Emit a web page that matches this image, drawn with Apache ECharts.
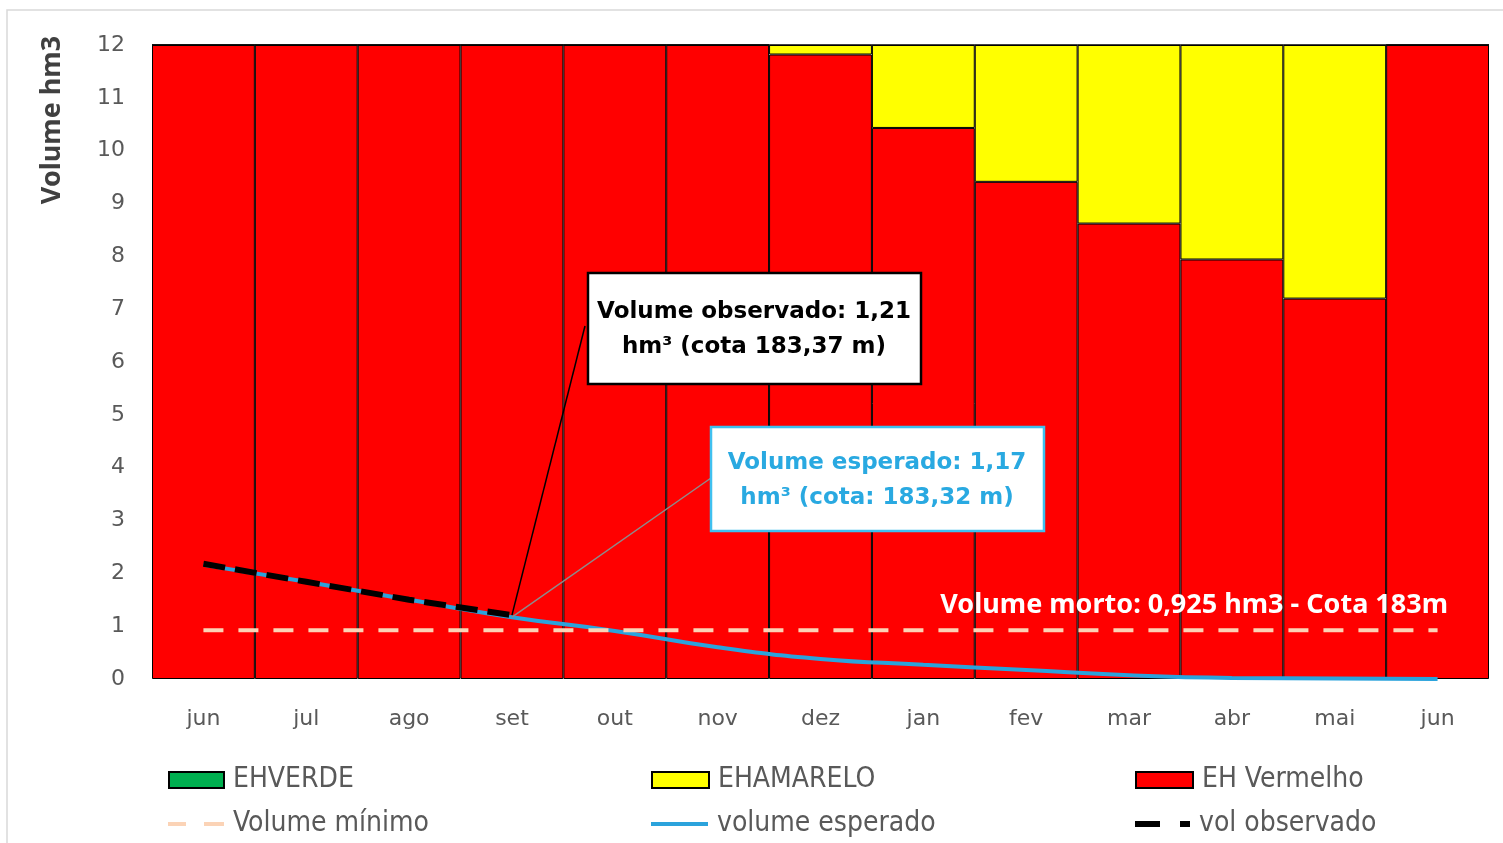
<!DOCTYPE html>
<html>
<head>
<meta charset="utf-8">
<script src="https://cdn.jsdelivr.net/npm/echarts@6/dist/echarts.min.js"></script>
<style>
  html, body { margin: 0; padding: 0; background: #fff; }
  #main { width: 1503px; height: 843px; }
</style>
</head>
<body>
<div id="main"></div>
<script>
// meses do ano hidrológico
const meses = ['jun', 'jul', 'ago', 'set', 'out', 'nov', 'dez', 'jan', 'fev', 'mar', 'abr', 'mai', 'jun'];
const ehVermelho = [12, 12, 12, 12, 12, 12, 11.82, 10.43, 9.41, 8.62, 7.94, 7.2, 12];
const ehAmarelo = [0, 0, 0, 0, 0, 0, 0.18, 1.57, 2.59, 3.38, 4.06, 4.8, 0];
const ehVerde = [0, 0, 0, 0, 0, 0, 0, 0, 0, 0, 0, 0, 0];
const volumeEsperado = [2.16, 1.84, 1.5, 1.17, 0.91, 0.6, 0.38, 0.27, 0.17, 0.07, 0.02, 0.01, 0];
const volObservado = [2.18, 1.84, 1.5, 1.21, null, null, null, null, null, null, null, null, null];
const volumeMinimo = [0.925, 0.925, 0.925, 0.925, 0.925, 0.925, 0.925, 0.925, 0.925, 0.925, 0.925, 0.925, 0.925];
const yTicks = { min: 0, max: 12, interval: 1 };

const chart = echarts.init(document.getElementById('main'), null, { renderer: 'canvas' });

const legendFont = {
  color: '#595959',
  fontSize: 28,
  fontFamily: '"DejaVu Sans Condensed", "Noto Sans", sans-serif',
  lineHeight: 30,
  padding: [0, 0, 0, 4],
};

// uma legenda por item, em 3 colunas x 2 linhas
function legendItem(name, left, top, icon, w, h) {
  return {
    data: [name],
    left: left,
    top: top,
    padding: 0,
    icon: icon,
    itemWidth: w,
    itemHeight: h,
    textStyle: legendFont,
  };
}

let option = {
  animation: false,
  grid: { left: 152, right: 14, top: 45, bottom: 164 },
  legend: [
    legendItem('EHVERDE', 168, 765, 'rect', 55, 16),
    legendItem('EHAMARELO', 651, 765, 'rect', 57, 16),
    legendItem('EH Vermelho', 1135, 765, 'rect', 57, 16),
    legendItem('Volume mínimo', 168, 809, 'path://M0,0h18v4h-18zM36,0h20v4h-20z', 56, 4),
    legendItem('volume esperado', 651, 809, 'rect', 57, 4),
    legendItem('vol observado', 1135, 809, 'path://M0,0h25v6h-25zM45,0h10v6h-10z', 55, 6),
  ],
  xAxis: {
    type: 'category',
    data: meses,
    axisLine: { show: false },
    axisTick: { show: false },
    axisLabel: {
      color: '#595959',
      fontSize: 22,
      fontFamily: 'DejaVu Sans',
      margin: 29,
    },
  },
  yAxis: {
    type: 'value',
    min: yTicks.min,
    max: yTicks.max,
    interval: yTicks.interval,
    splitLine: { show: false },
    axisLine: { show: false },
    axisLabel: {
      color: '#595959',
      fontSize: 22,
      fontFamily: 'DejaVu Sans',
      margin: 27,
    },
  },
  series: [
    {
      name: 'EH Vermelho',
      type: 'bar',
      stack: 'eh',
      data: ehVermelho,
      barWidth: '100%',
      barCategoryGap: '0%',
      itemStyle: { color: '#ff0000', borderColor: '#000', borderWidth: 1 },
    },
    {
      name: 'EHAMARELO',
      type: 'bar',
      stack: 'eh',
      data: ehAmarelo,
      itemStyle: { color: '#ffff00', borderColor: '#000', borderWidth: 1 },
    },
    {
      name: 'EHVERDE',
      type: 'bar',
      stack: 'eh',
      data: ehVerde,
      itemStyle: { color: '#00b050', borderColor: '#000', borderWidth: 1 },
    },
    {
      name: 'volume esperado',
      type: 'line',
      data: volumeEsperado,
      smooth: true,
      symbol: 'none',
      lineStyle: { color: '#2ba3dc', width: 4 },
      itemStyle: { color: '#2ba3dc' },
    },
    {
      name: 'Volume mínimo',
      type: 'line',
      data: volumeMinimo,
      symbol: 'none',
      lineStyle: { color: '#fbd3b6', width: 4, type: [20, 15] },
      itemStyle: { color: '#fbd3b6' },
    },
    {
      name: 'vol observado',
      type: 'line',
      data: volObservado,
      symbol: 'none',
      lineStyle: { color: '#000', width: 6, type: [22, 10] },
      itemStyle: { color: '#000' },
    },
  ],
};
chart.setOption(option);

// anotações: caixas de texto e linhas de chamada até o ponto observado/esperado
const ptObs = chart.convertToPixel({ gridIndex: 0 }, [3, volObservado[3]]);
const ptEsp = chart.convertToPixel({ gridIndex: 0 }, [3, volumeEsperado[3]]);

chart.setOption({
  graphic: [
    {
      type: 'rect',
      shape: { x: 7, y: 10, width: 1600, height: 900 },
      style: { fill: 'none', stroke: '#d9d9d9', lineWidth: 1.5 },
      z: 0,
    },
    {
      type: 'text',
      x: 52,
      y: 120,
      rotation: Math.PI / 2,
      style: {
        text: 'Volume hm3',
        align: 'center',
        verticalAlign: 'middle',
        fill: '#404040',
        fontSize: 27,
        fontWeight: 'bold',
        fontFamily: 'Noto Sans',
      },
    },
    {
      type: 'line',
      shape: { x1: 585, y1: 326, x2: ptObs[0], y2: ptObs[1] },
      style: { stroke: '#000', lineWidth: 1.5 },
      z: 100,
    },
    {
      type: 'line',
      shape: { x1: 711, y1: 478, x2: ptEsp[0], y2: ptEsp[1] },
      style: { stroke: '#8c8c8c', lineWidth: 1.5 },
      z: 100,
    },
    {
      type: 'rect',
      shape: { x: 588, y: 273, width: 333, height: 111 },
      style: { fill: '#fff', stroke: '#000', lineWidth: 2.5 },
      z: 101,
    },
    {
      type: 'text',
      x: 754,
      y: 330,
      style: {
        text: 'Volume observado: 1,21\nhm³ (cota 183,37 m)',
        align: 'center',
        verticalAlign: 'middle',
        lineHeight: 35,
        fill: '#000',
        fontSize: 23,
        fontWeight: 'bold',
        fontFamily: 'DejaVu Sans',
      },
      z: 102,
    },
    {
      type: 'rect',
      shape: { x: 711, y: 427, width: 333, height: 104 },
      style: { fill: '#fff', stroke: '#3fc0ef', lineWidth: 2.5 },
      z: 101,
    },
    {
      type: 'text',
      x: 877,
      y: 481,
      style: {
        text: 'Volume esperado: 1,17\nhm³ (cota: 183,32 m)',
        align: 'center',
        verticalAlign: 'middle',
        lineHeight: 35,
        fill: '#29a9e1',
        fontSize: 23,
        fontWeight: 'bold',
        fontFamily: 'DejaVu Sans',
      },
      z: 102,
    },
    {
      type: 'text',
      x: 1448,
      y: 605,
      style: {
        text: 'Volume morto: 0,925 hm3 - Cota 183m',
        align: 'right',
        verticalAlign: 'middle',
        fill: '#fff',
        fontSize: 27,
        fontWeight: 'bold',
        fontFamily: 'Noto Sans',
      },
      z: 102,
    },
  ],
});
</script>
</body>
</html>
